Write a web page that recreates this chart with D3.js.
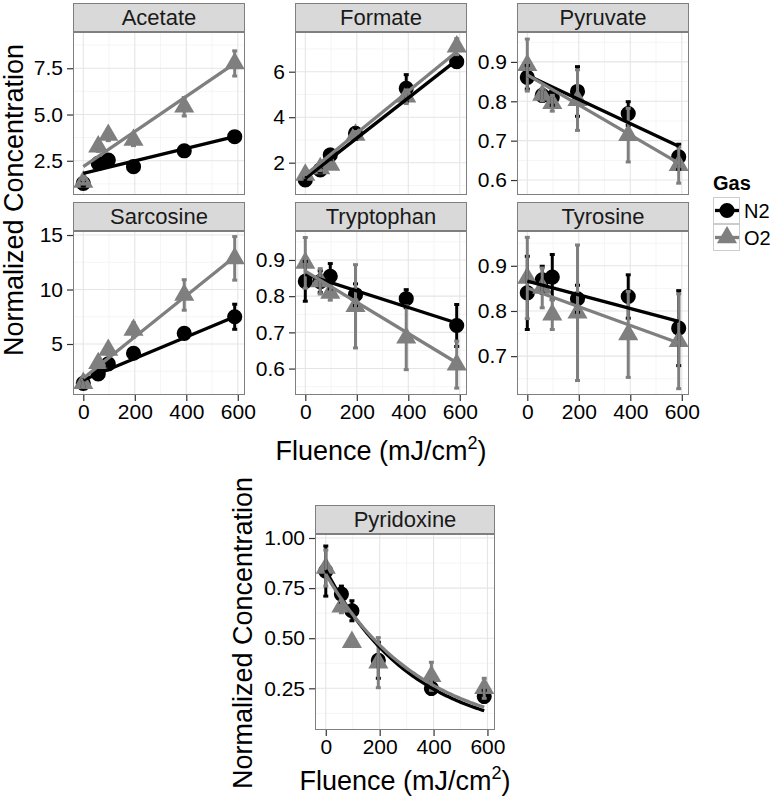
<!DOCTYPE html>
<html><head><meta charset="utf-8">
<script src="https://cdn.jsdelivr.net/npm/d3@7"></script>
<style>body{margin:0;background:#fff} svg{display:block;font-family:"Liberation Sans",Arial,sans-serif}</style>
</head><body><svg id="c" width="777" height="802"></svg>
<script>
// ---------------- data ----------------
const fluence = [0, 58, 97, 195, 392, 588];
const gases = ["N2", "O2"];
const compounds = ["Acetate","Formate","Pyruvate","Sarcosine","Tryptophan","Tyrosine","Pyridoxine"];
const xTicks = [0, 200, 400, 600];
const xTickLabels = ["0", "200", "400", "600"];
const xDomain = [-40, 628];

const acetateN2 = [1.28, 2.36, 2.54, 2.18, 3.04, 3.80];
const acetateN2Err = [0.15, 0.10, 0.12, 0.10, 0.10, 0.12];
const acetateO2 = [1.36, 3.26, 3.89, 3.62, 5.42, 7.76];
const acetateO2Err = [0.12, 0.25, 0.30, 0.30, 0.50, 0.68];
const acetateFit = [[1.82, 3.80], [2.18, 7.76]];
const acetateTicks = [2.5, 5.0, 7.5];
const acetateTickLabels = ["2.5", "5.0", "7.5"];
const acetateRange = [0.65, 9.46];

const formateN2 = [1.24, 1.68, 2.34, 3.29, 5.27, 6.44];
const formateN2Err = [0.10, 0.10, 0.25, 0.25, 0.60, 0.25];
const formateO2 = [1.46, 1.75, 1.90, 3.22, 4.90, 7.10];
const formateO2Err = [0.10, 0.10, 0.12, 0.15, 0.30, 0.35];
const formateFit = [[1.31, 6.51], [1.46, 6.88]];
const formateTicks = [2, 4, 6];
const formateTickLabels = ["2", "4", "6"];
const formateRange = [0.58, 7.745];

const pyruvateN2 = [0.861, 0.815, 0.810, 0.825, 0.769, 0.659];
const pyruvateN2Err = [0.030, 0.015, 0.020, 0.063, 0.030, 0.032];
const pyruvateO2 = [0.892, 0.816, 0.795, 0.803, 0.714, 0.638];
const pyruvateO2Err = [0.066, 0.015, 0.020, 0.077, 0.068, 0.046];
const pyruvateFit = [[0.866, 0.686], [0.867, 0.643]];
const pyruvateTicks = [0.6, 0.7, 0.8, 0.9];
const pyruvateTickLabels = ["0.6", "0.7", "0.8", "0.9"];
const pyruvateRange = [0.562, 0.976];

const sarcosineN2 = [1.39, 2.25, 3.17, 4.15, 5.98, 7.50];
const sarcosineN2Err = [0.30, 0.20, 0.20, 0.30, 0.30, 1.15];
const sarcosineO2 = [1.40, 3.23, 4.45, 6.28, 9.50, 12.86];
const sarcosineO2Err = [0.30, 0.30, 0.40, 0.65, 1.40, 2.00];
const sarcosineFit = [[1.70, 7.50], [1.85, 13.0]];
const sarcosineTicks = [5, 10, 15];
const sarcosineTickLabels = ["5", "10", "15"];
const sarcosineRange = [0.32, 15.37];

const tryptophanN2 = [0.841, 0.840, 0.855, 0.804, 0.793, 0.719];
const tryptophanN2Err = [0.055, 0.030, 0.035, 0.030, 0.025, 0.058];
const tryptophanO2 = [0.892, 0.841, 0.809, 0.772, 0.685, 0.611];
const tryptophanO2Err = [0.070, 0.035, 0.020, 0.115, 0.088, 0.065];
const tryptophanFit = [[0.860, 0.726], [0.869, 0.616]];
const tryptophanTicks = [0.6, 0.7, 0.8, 0.9];
const tryptophanTickLabels = ["0.6", "0.7", "0.8", "0.9"];
const tryptophanRange = [0.527, 0.980];

const tyrosineN2 = [0.840, 0.869, 0.875, 0.827, 0.832, 0.762];
const tyrosineN2Err = [0.081, 0.030, 0.050, 0.030, 0.048, 0.083];
const tyrosineO2 = [0.873, 0.851, 0.792, 0.796, 0.748, 0.733];
const tyrosineO2Err = [0.090, 0.044, 0.033, 0.150, 0.095, 0.105];
const tyrosineFit = [[0.866, 0.777], [0.851, 0.729]];
const tyrosineTicks = [0.7, 0.8, 0.9];
const tyrosineTickLabels = ["0.7", "0.8", "0.9"];
const tyrosineRange = [0.614, 0.977];

const pyridoxineN2 = [0.835, 0.720, 0.637, 0.390, 0.250, 0.210];
const pyridoxineN2Err = [0.125, 0.040, 0.050, 0.090, 0.030, 0.030];
const pyridoxineO2 = [0.850, 0.657, 0.480, 0.378, 0.310, 0.250];
const pyridoxineO2Err = [0.090, 0.030, 0.020, 0.125, 0.070, 0.050];
// exponential decay fit: [a, k] for a*exp(-k*x)
const pyridoxineExpFit = [[0.84, 0.00307], [0.82, 0.00283]];
const pyridoxineTicks = [0.25, 0.50, 0.75, 1.00];
const pyridoxineTickLabels = ["0.25", "0.50", "0.75", "1.00"];
const pyridoxineRange = [0.042, 1.02];

// ---------------- table built from arrays ----------------
const table = {
  Acetate:   {N2: acetateN2, N2e: acetateN2Err, O2: acetateO2, O2e: acetateO2Err, fit: acetateFit, ticks: acetateTicks, labels: acetateTickLabels, range: acetateRange},
  Formate:   {N2: formateN2, N2e: formateN2Err, O2: formateO2, O2e: formateO2Err, fit: formateFit, ticks: formateTicks, labels: formateTickLabels, range: formateRange},
  Pyruvate:  {N2: pyruvateN2, N2e: pyruvateN2Err, O2: pyruvateO2, O2e: pyruvateO2Err, fit: pyruvateFit, ticks: pyruvateTicks, labels: pyruvateTickLabels, range: pyruvateRange},
  Sarcosine: {N2: sarcosineN2, N2e: sarcosineN2Err, O2: sarcosineO2, O2e: sarcosineO2Err, fit: sarcosineFit, ticks: sarcosineTicks, labels: sarcosineTickLabels, range: sarcosineRange},
  Tryptophan:{N2: tryptophanN2, N2e: tryptophanN2Err, O2: tryptophanO2, O2e: tryptophanO2Err, fit: tryptophanFit, ticks: tryptophanTicks, labels: tryptophanTickLabels, range: tryptophanRange},
  Tyrosine:  {N2: tyrosineN2, N2e: tyrosineN2Err, O2: tyrosineO2, O2e: tyrosineO2Err, fit: tyrosineFit, ticks: tyrosineTicks, labels: tyrosineTickLabels, range: tyrosineRange},
  Pyridoxine:{N2: pyridoxineN2, N2e: pyridoxineN2Err, O2: pyridoxineO2, O2e: pyridoxineO2Err, expFit: pyridoxineExpFit, ticks: pyridoxineTicks, labels: pyridoxineTickLabels, range: pyridoxineRange}
};

// ---------------- layout ----------------
const layout = {
  Acetate:    {x0: 73,  x1: 245, y0: 32,  y1: 195, xAxis: false},
  Formate:    {x0: 295, x1: 467, y0: 32,  y1: 195, xAxis: false},
  Pyruvate:   {x0: 517, x1: 689, y0: 32,  y1: 195, xAxis: false},
  Sarcosine:  {x0: 73,  x1: 245, y0: 231, y1: 395, xAxis: true},
  Tryptophan: {x0: 295, x1: 467, y0: 231, y1: 395, xAxis: true},
  Tyrosine:   {x0: 517, x1: 689, y0: 231, y1: 395, xAxis: true},
  Pyridoxine: {x0: 315, x1: 495, y0: 534, y1: 730, xAxis: true}
};
const colors = {N2: "#000000", O2: "#7f7f7f"};
const shapes = {N2: d3.symbolCircle, O2: d3.symbolTriangle};
const shapeSize = {N2: 180, O2: 175};
const stripH = 29;
const tickFont = 21, stripFont = 22, titleFont = 27;

const svg = d3.select("#c");
svg.append("rect").attr("width", 777).attr("height", 802).attr("fill", "#fff");

compounds.forEach(name => {
  const L = layout[name], D = table[name];
  const x = d3.scaleLinear().domain(xDomain).range([L.x0, L.x1]);
  const y = d3.scaleLinear().domain(D.range).range([L.y1, L.y0]);
  const g = svg.append("g");

  // background + grid
  g.append("rect").attr("x", L.x0).attr("y", L.y0).attr("width", L.x1 - L.x0).attr("height", L.y1 - L.y0).attr("fill", "#fff");
  const xMinor = d3.range(-100, 700, 200).filter(v => v > xDomain[0] && v < xDomain[1]);
  const step = D.ticks[1] - D.ticks[0];
  const yMinor = [];
  for (let v = D.ticks[0] - step / 2; v < D.range[1]; v += step) if (v > D.range[0]) yMinor.push(v);
  const grid = g.append("g");
  grid.selectAll(".xm").data(xMinor).join("line")
    .attr("x1", d => x(d)).attr("x2", d => x(d)).attr("y1", L.y0).attr("y2", L.y1)
    .attr("stroke", "#f5f5f5").attr("stroke-width", 1);
  grid.selectAll(".ym").data(yMinor).join("line")
    .attr("y1", d => y(d)).attr("y2", d => y(d)).attr("x1", L.x0).attr("x2", L.x1)
    .attr("stroke", "#f5f5f5").attr("stroke-width", 1);
  grid.selectAll(".xM").data(xTicks).join("line")
    .attr("x1", d => x(d)).attr("x2", d => x(d)).attr("y1", L.y0).attr("y2", L.y1)
    .attr("stroke", "#e5e5e5").attr("stroke-width", 1.1);
  grid.selectAll(".yM").data(D.ticks).join("line")
    .attr("y1", d => y(d)).attr("y2", d => y(d)).attr("x1", L.x0).attr("x2", L.x1)
    .attr("stroke", "#e5e5e5").attr("stroke-width", 1.1);

  // clip
  const clipId = "clip-" + name;
  svg.append("clipPath").attr("id", clipId).append("rect")
    .attr("x", L.x0).attr("y", L.y0).attr("width", L.x1 - L.x0).attr("height", L.y1 - L.y0);
  const plot = g.append("g").attr("clip-path", `url(#${clipId})`);

  // points
  gases.forEach(gas => {
    plot.append("g").selectAll("path").data(fluence.map((f, i) => [f, D[gas][i]])).join("path")
      .attr("d", d3.symbol().type(shapes[gas]).size(shapeSize[gas]))
      .attr("transform", d => `translate(${x(d[0])},${y(d[1])})`)
      .attr("fill", colors[gas]);
  });
  // error bars
  gases.forEach(gas => {
    const eb = plot.append("g").attr("stroke", colors[gas]).attr("stroke-width", 3);
    const rows = fluence.map((f, i) => ({f, lo: D[gas][i] - D[gas + "e"][i], hi: D[gas][i] + D[gas + "e"][i]}));
    eb.selectAll(".v").data(rows).join("line")
      .attr("x1", d => x(d.f)).attr("x2", d => x(d.f)).attr("y1", d => y(d.lo)).attr("y2", d => y(d.hi));
    eb.selectAll(".c1").data(rows).join("line")
      .attr("x1", d => x(d.f) - 2.5).attr("x2", d => x(d.f) + 2.5).attr("y1", d => y(d.lo)).attr("y2", d => y(d.lo));
    eb.selectAll(".c2").data(rows).join("line")
      .attr("x1", d => x(d.f) - 2.5).attr("x2", d => x(d.f) + 2.5).attr("y1", d => y(d.hi)).attr("y2", d => y(d.hi));
  });
  // fits
  gases.forEach((gas, gi) => {
    let pts;
    if (D.expFit) {
      const [a, k] = D.expFit[gi];
      pts = d3.range(0, 81).map(i => {
        const xv = fluence[0] + (fluence[fluence.length - 1] - fluence[0]) * i / 80;
        return [xv, a * Math.exp(-k * xv)];
      });
    } else {
      pts = [[fluence[0], D.fit[gi][0]], [fluence[fluence.length - 1], D.fit[gi][1]]];
    }
    plot.append("path").datum(pts)
      .attr("d", d3.line().x(d => x(d[0])).y(d => y(d[1])))
      .attr("fill", "none").attr("stroke", colors[gas]).attr("stroke-width", 3.3);
  });

  // border
  g.append("rect").attr("x", L.x0 + 0.5).attr("y", L.y0 + 0.5).attr("width", L.x1 - L.x0 - 1).attr("height", L.y1 - L.y0 - 1)
    .attr("fill", "none").attr("stroke", "#7f7f7f").attr("stroke-width", 1);

  // strip
  g.append("rect").attr("x", L.x0 + 0.5).attr("y", L.y0 - stripH + 0.5).attr("width", L.x1 - L.x0 - 1).attr("height", stripH - 1)
    .attr("fill", "#d9d9d9").attr("stroke", "#7f7f7f").attr("stroke-width", 1);
  g.append("text").attr("x", (L.x0 + L.x1) / 2).attr("y", L.y0 - 7).attr("text-anchor", "middle")
    .attr("font-size", stripFont).attr("fill", "#1a1a1a").text(name);

  // y axis
  const yAxis = d3.axisLeft(y).tickValues(D.ticks).tickFormat((d, i) => D.labels[i]).tickSize(6).tickPadding(4);
  const ya = g.append("g").attr("transform", `translate(${L.x0},0)`).call(yAxis);
  ya.select(".domain").remove();
  ya.selectAll("line").attr("stroke", "#333").attr("stroke-width", 1.2);
  ya.selectAll("text").attr("font-size", tickFont).attr("fill", "#000").attr("font-family", null);

  if (L.xAxis) {
    const xAxis = d3.axisBottom(x).tickValues(xTicks).tickFormat((d, i) => xTickLabels[i]).tickSize(6).tickPadding(3);
    const xa = g.append("g").attr("transform", `translate(0,${L.y1})`).call(xAxis);
    xa.select(".domain").remove();
    xa.selectAll("line").attr("stroke", "#333").attr("stroke-width", 1.2);
    xa.selectAll("text").attr("font-size", tickFont).attr("fill", "#000").attr("font-family", null);
  }
});

// axis titles
function fluenceTitle(cx, by) {
  const t = svg.append("text").attr("x", cx).attr("y", by).attr("text-anchor", "middle").attr("font-size", titleFont).attr("fill", "#000");
  t.append("tspan").text("Fluence (mJ/cm");
  t.append("tspan").attr("dy", -11).attr("font-size", 18).text("2");
  t.append("tspan").attr("dy", 11).text(")");
}
fluenceTitle(381, 460);
fluenceTitle(405, 790);
function yTitle(bx, cy) {
  svg.append("text").attr("transform", `translate(${bx},${cy}) rotate(-90)`).attr("text-anchor", "middle")
    .attr("font-size", titleFont).attr("fill", "#000").text("Normalized Concentration");
}
yTitle(23, 200);
yTitle(252, 633);

// legend
const lg = svg.append("g");
lg.append("text").attr("x", 713).attr("y", 190).attr("font-size", 20).attr("font-weight", "bold").attr("fill", "#000").text("Gas");
gases.forEach((gas, i) => {
  const ky = 197 + i * 27;
  lg.append("rect").attr("x", 713.5).attr("y", ky + 0.5).attr("width", 26).attr("height", 26)
    .attr("fill", "#fff").attr("stroke", "#cccccc").attr("stroke-width", 1);
  lg.append("line").attr("x1", 715).attr("x2", 739).attr("y1", ky + 13.5).attr("y2", ky + 13.5)
    .attr("stroke", colors[gas]).attr("stroke-width", 3.3);
  lg.append("path").attr("d", d3.symbol().type(shapes[gas]).size(shapeSize[gas])())
    .attr("transform", `translate(727,${ky + 13.5})`).attr("fill", colors[gas]);
  lg.append("text").attr("x", 744).attr("y", ky + 21).attr("font-size", 20).attr("fill", "#000").text(gas);
});
</script></body></html>
